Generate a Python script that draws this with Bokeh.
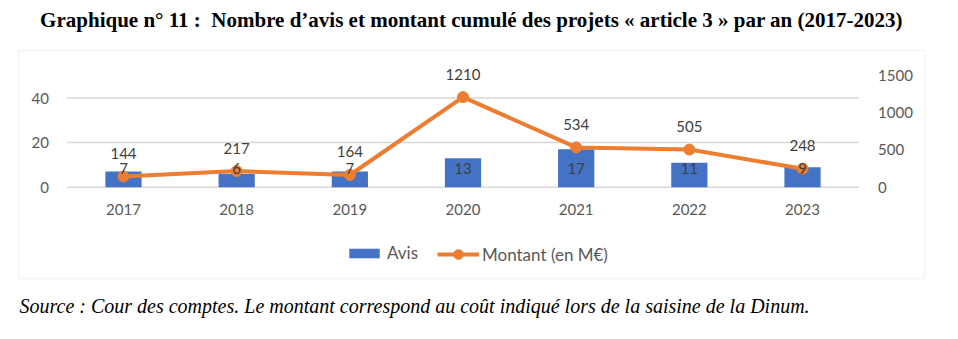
from bokeh.plotting import figure
from bokeh.models import (ColumnDataSource, Range1d, LinearAxis, FixedTicker, Label,
                          BoxAnnotation, Legend, LegendItem)
from bokeh.core.properties import value
from bokeh.embed import file_html
from bokeh.resources import INLINE

years = [2017, 2018, 2019, 2020, 2021, 2022, 2023]
year_labels = ["2017", "2018", "2019", "2020", "2021", "2022", "2023"]
avis = [7, 6, 7, 13, 17, 11, 9]
montant = [144, 217, 164, 1210, 534, 505, 248]
left_ticks = [0, 20, 40]
right_ticks = [0, 500, 1000, 1500]

title_text = "Graphique n° 11 :\u00a0 Nombre d’avis et montant cumulé des projets « article 3 » par an (2017-2023)"
source_text = "Source : Cour des comptes. Le montant correspond au coût indiqué lors de la saisine de la Dinum."

BLUE = "#4472C4"
ORANGE = "#ED7D31"
GRID = "#D9D9D9"
TICK = "#595959"
LBL = "#404040"
FONT = "Lato"

W, H = 958, 339
# chart box in canvas pixels (frame covers the whole canvas)
BL, BR, BT, BB = 18, 924, 50, 278
X0PX, XSTEP = 123.0, 113.17       # pixel of first year, pixels per year
Y0PX = 186.7                      # pixel of value 0
LPX = 2.23                        # px per left unit
RPX = 0.07447                     # px per right unit

x_start = years[0] - X0PX / XSTEP
x_end = years[-1] + (W - (X0PX + XSTEP * (len(years) - 1))) / XSTEP

src = ColumnDataSource(dict(
    year=years, avis=avis, montant=montant,
    avis_txt=[str(v) for v in avis],
    mont_txt=[str(v) for v in montant],
    zero=[0] * len(years),
))

p = figure(width=W, height=H,
           x_range=Range1d(x_start, x_end),
           y_range=Range1d(-(H - Y0PX) / LPX, Y0PX / LPX),
           output_backend="svg", toolbar_location=None,
           min_border=0, min_border_left=0, min_border_right=0,
           min_border_top=0, min_border_bottom=0)
p.extra_y_ranges = {"m": Range1d(-(H - Y0PX) / RPX, Y0PX / RPX)}
p.outline_line_color = None
p.background_fill_color = "white"
p.border_fill_color = "white"
p.grid.visible = False

gx0 = years[0] - 0.5
gx1 = years[-1] + 0.5

# chart box
p.add_layout(BoxAnnotation(left=BL, right=BR, bottom=H - BB, top=H - BT,
                           left_units="screen", right_units="screen",
                           top_units="screen", bottom_units="screen",
                           fill_color=None, fill_alpha=0, line_color=GRID,
                           line_width=1.5, level="underlay"))

# axes
xa = p.xaxis[0]
xa.ticker = FixedTicker(ticks=years)
xa.major_label_overrides = {y: l for y, l in zip(years, year_labels)}
xa.fixed_location = 0
xa.axis_line_color = None
xa.major_tick_line_color = None
xa.minor_tick_line_color = None
xa.major_tick_out = 0
xa.major_label_standoff = 17
xa.major_label_text_font = FONT
xa.major_label_text_font_size = "15px"
xa.major_label_text_color = TICK

ya = p.yaxis[0]
ya.ticker = FixedTicker(ticks=left_ticks)
ya.fixed_location = gx0
ya.axis_line_color = None
ya.major_tick_line_color = None
ya.minor_tick_line_color = None
ya.major_tick_out = 0
ya.major_label_standoff = 18
ya.major_label_text_font = FONT
ya.major_label_text_font_size = "15px"
ya.major_label_text_color = TICK

ra = LinearAxis(y_range_name="m", ticker=FixedTicker(ticks=right_ticks))
ra.fixed_location = gx1
ra.axis_line_color = None
ra.major_tick_line_color = None
ra.minor_tick_line_color = None
ra.major_tick_out = 0
ra.major_label_standoff = 19
ra.major_label_text_font = FONT
ra.major_label_text_font_size = "15px"
ra.major_label_text_color = TICK
p.add_layout(ra, "right")

# gridlines (left axis ticks) across the plot area
p.segment(x0=[gx0] * len(left_ticks), x1=[gx1] * len(left_ticks),
          y0=left_ticks, y1=left_ticks, line_color=GRID, line_width=1.5)

# bars
bars = p.vbar(x="year", top="avis", width=0.32, source=src,
              fill_color=BLUE, line_color=None)
# line
ln = p.line(x="year", y="montant", source=src, y_range_name="m",
            line_color=ORANGE, line_width=4)
pts = p.scatter(x="year", y="montant", source=src, y_range_name="m",
                size=11, fill_color=ORANGE, line_color=ORANGE)

# data labels
p.text(x="year", y="zero", text="avis_txt", source=src, y_offset=-19,
       text_align="center", text_baseline="middle",
       text_font=value(FONT), text_font_size="15px", text_color=LBL)
p.text(x="year", y="montant", text="mont_txt", source=src, y_range_name="m",
       y_offset=-23, text_align="center", text_baseline="middle",
       text_font=value(FONT), text_font_size="15px", text_color=LBL)

# legends
leg1 = Legend(items=[LegendItem(label="Avis", renderers=[bars])],
              location=(345, H - 263), glyph_width=38, glyph_height=12,
              label_standoff=4, padding=0, margin=0, border_line_color=None,
              background_fill_alpha=0, label_text_font=FONT,
              label_text_font_size="17px", label_text_color=TICK, label_height=16)
leg2 = Legend(items=[LegendItem(label="Montant (en M€)", renderers=[ln, pts])],
              location=(437, H - 266), glyph_width=42, glyph_height=24,
              label_standoff=3, padding=0, margin=0, border_line_color=None,
              background_fill_alpha=0, label_text_font=FONT,
              label_text_font_size="17px", label_text_color=TICK, label_height=16)
p.add_layout(leg1, "center")
p.add_layout(leg2, "center")

# title and source
p.add_layout(Label(x=W / 2 - 8, y=H - 19, x_units="screen", y_units="screen",
                   text=title_text, text_align="center", text_baseline="middle",
                   text_font="Liberation Serif", text_font_style="bold",
                   text_font_size="21px", text_color="black"))
p.add_layout(Label(x=19, y=H - 305, x_units="screen", y_units="screen",
                   text=source_text, text_align="left", text_baseline="middle",
                   text_font="Liberation Serif", text_font_style="italic",
                   text_font_size="20px", text_color="black"))

open("out.html", "w").write(file_html(p, INLINE))
